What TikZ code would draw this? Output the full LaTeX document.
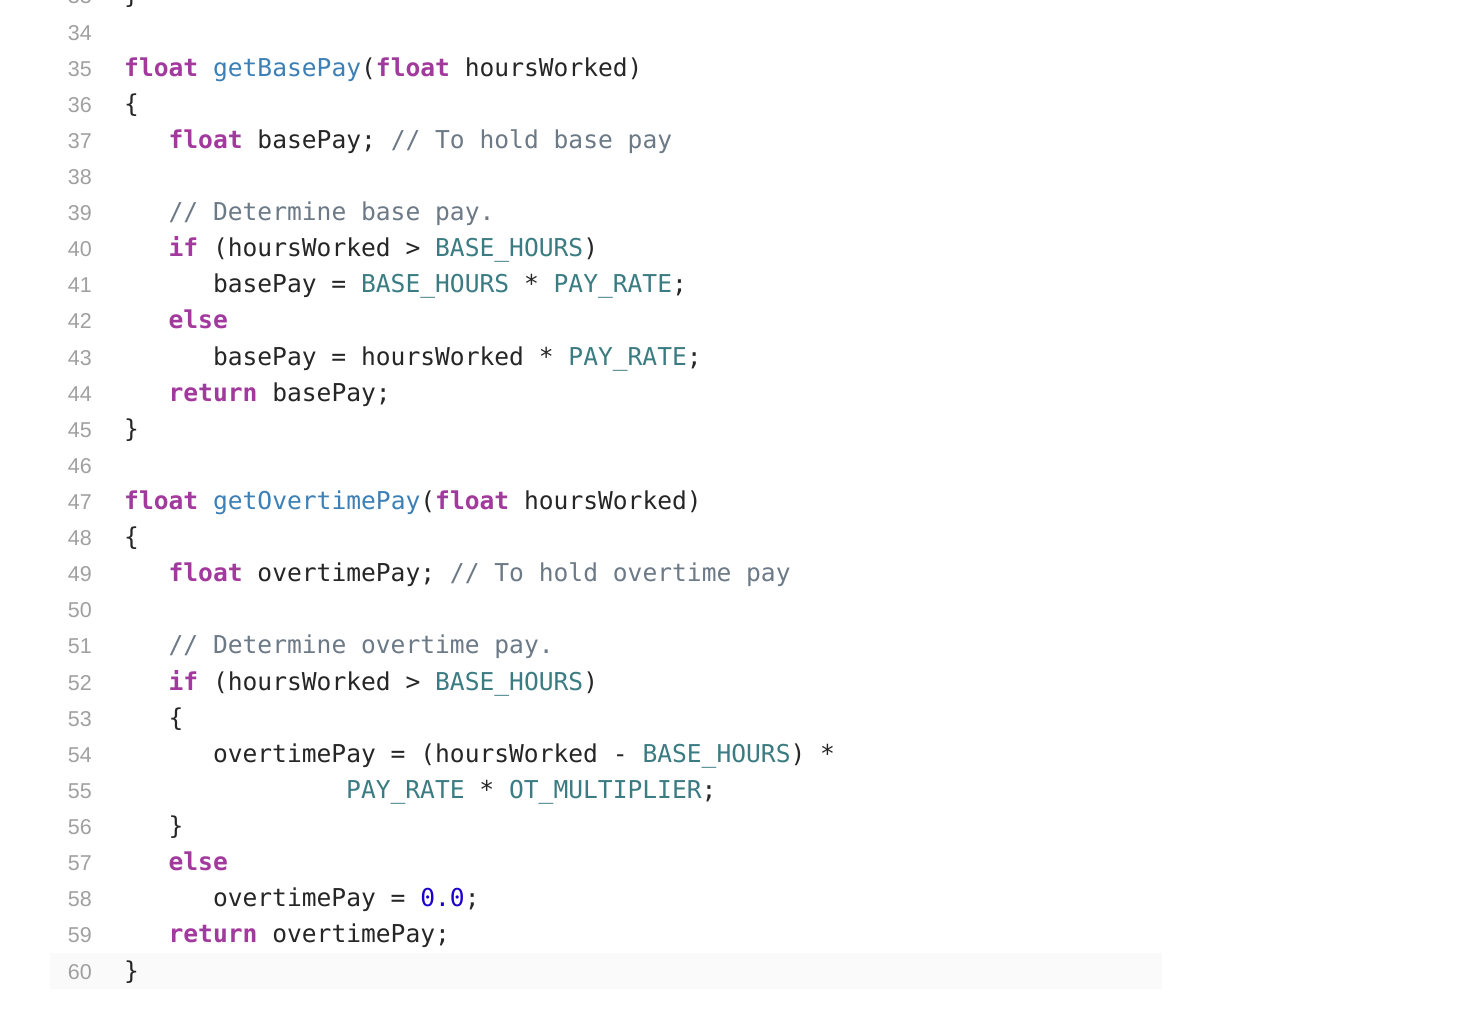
\documentclass[tikz,border=0pt]{standalone}
\usepackage{fontspec}
\setmonofont{DejaVu Sans Mono}
\newfontfamily\numfont{Liberation Sans}
\definecolor{kwc}{HTML}{A23A9E}
\definecolor{fnc}{HTML}{3D80B6}
\definecolor{cnc}{HTML}{3B7C82}
\definecolor{cmc}{HTML}{6C7986}
\definecolor{nmc}{HTML}{1C00CF}
\definecolor{txc}{HTML}{262626}
\definecolor{lnc}{HTML}{A0A0A0}
\newcommand\kw[1]{\textcolor{kwc}{\bfseries #1}}
\newcommand\fn[1]{\textcolor{fnc}{#1}}
\newcommand\cn[1]{\textcolor{cnc}{#1}}
\newcommand\cm[1]{\textcolor{cmc}{#1}}
\newcommand\nm[1]{\textcolor{nmc}{#1}}
\begin{document}
\begin{tikzpicture}[x=1pt,y=-1pt,
  code/.style={anchor=base west,inner sep=0pt,font=\fontsize{24.6}{24}\ttfamily,text=txc},
  lnum/.style={anchor=base east,inner sep=0pt,font=\fontsize{21.5}{21}\numfont,text=lnc}]
\useasboundingbox (0,0) rectangle (1476,1010);
\clip (0,0) rectangle (1476,1010);
\fill[white] (0,0) rectangle (1476,1010);
\fill[black!2] (50,953) rectangle (1162,989);
\newcommand\cl[4]{%
  \pgfmathsetmacro\yy{40+(#1-34)*36.115}
  \node[lnum] (n#1) at (92,\yy) {#1};
  \node[code] (c#1) at (124+#2*14.8,\yy) {#4};}
\newcommand\el[1]{\pgfmathsetmacro\yy{40+(#1-34)*36.115}\node[lnum] (n#1) at (92,\yy) {#1};}
\cl{33}{0}{}{\}}
\el{34}
\cl{35}{0}{}{\kw{float} \fn{getBasePay}(\kw{float} hoursWorked)}
\cl{36}{0}{}{\{}
\cl{37}{3}{}{\kw{float} basePay; \cm{// To hold base pay}}
\el{38}
\cl{39}{3}{}{\cm{// Determine base pay.}}
\cl{40}{3}{}{\kw{if} (hoursWorked > \cn{BASE\_HOURS})}
\cl{41}{6}{}{basePay = \cn{BASE\_HOURS} * \cn{PAY\_RATE};}
\cl{42}{3}{}{\kw{else}}
\cl{43}{6}{}{basePay = hoursWorked * \cn{PAY\_RATE};}
\cl{44}{3}{}{\kw{return} basePay;}
\cl{45}{0}{}{\}}
\el{46}
\cl{47}{0}{}{\kw{float} \fn{getOvertimePay}(\kw{float} hoursWorked)}
\cl{48}{0}{}{\{}
\cl{49}{3}{}{\kw{float} overtimePay; \cm{// To hold overtime pay}}
\el{50}
\cl{51}{3}{}{\cm{// Determine overtime pay.}}
\cl{52}{3}{}{\kw{if} (hoursWorked > \cn{BASE\_HOURS})}
\cl{53}{3}{}{\{}
\cl{54}{6}{}{overtimePay = (hoursWorked - \cn{BASE\_HOURS}) *}
\cl{55}{15}{}{\cn{PAY\_RATE} * \cn{OT\_MULTIPLIER};}
\cl{56}{3}{}{\}}
\cl{57}{3}{}{\kw{else}}
\cl{58}{6}{}{overtimePay = \nm{0.0};}
\cl{59}{3}{}{\kw{return} overtimePay;}
\cl{60}{0}{}{\}}
\end{tikzpicture}
\end{document}
